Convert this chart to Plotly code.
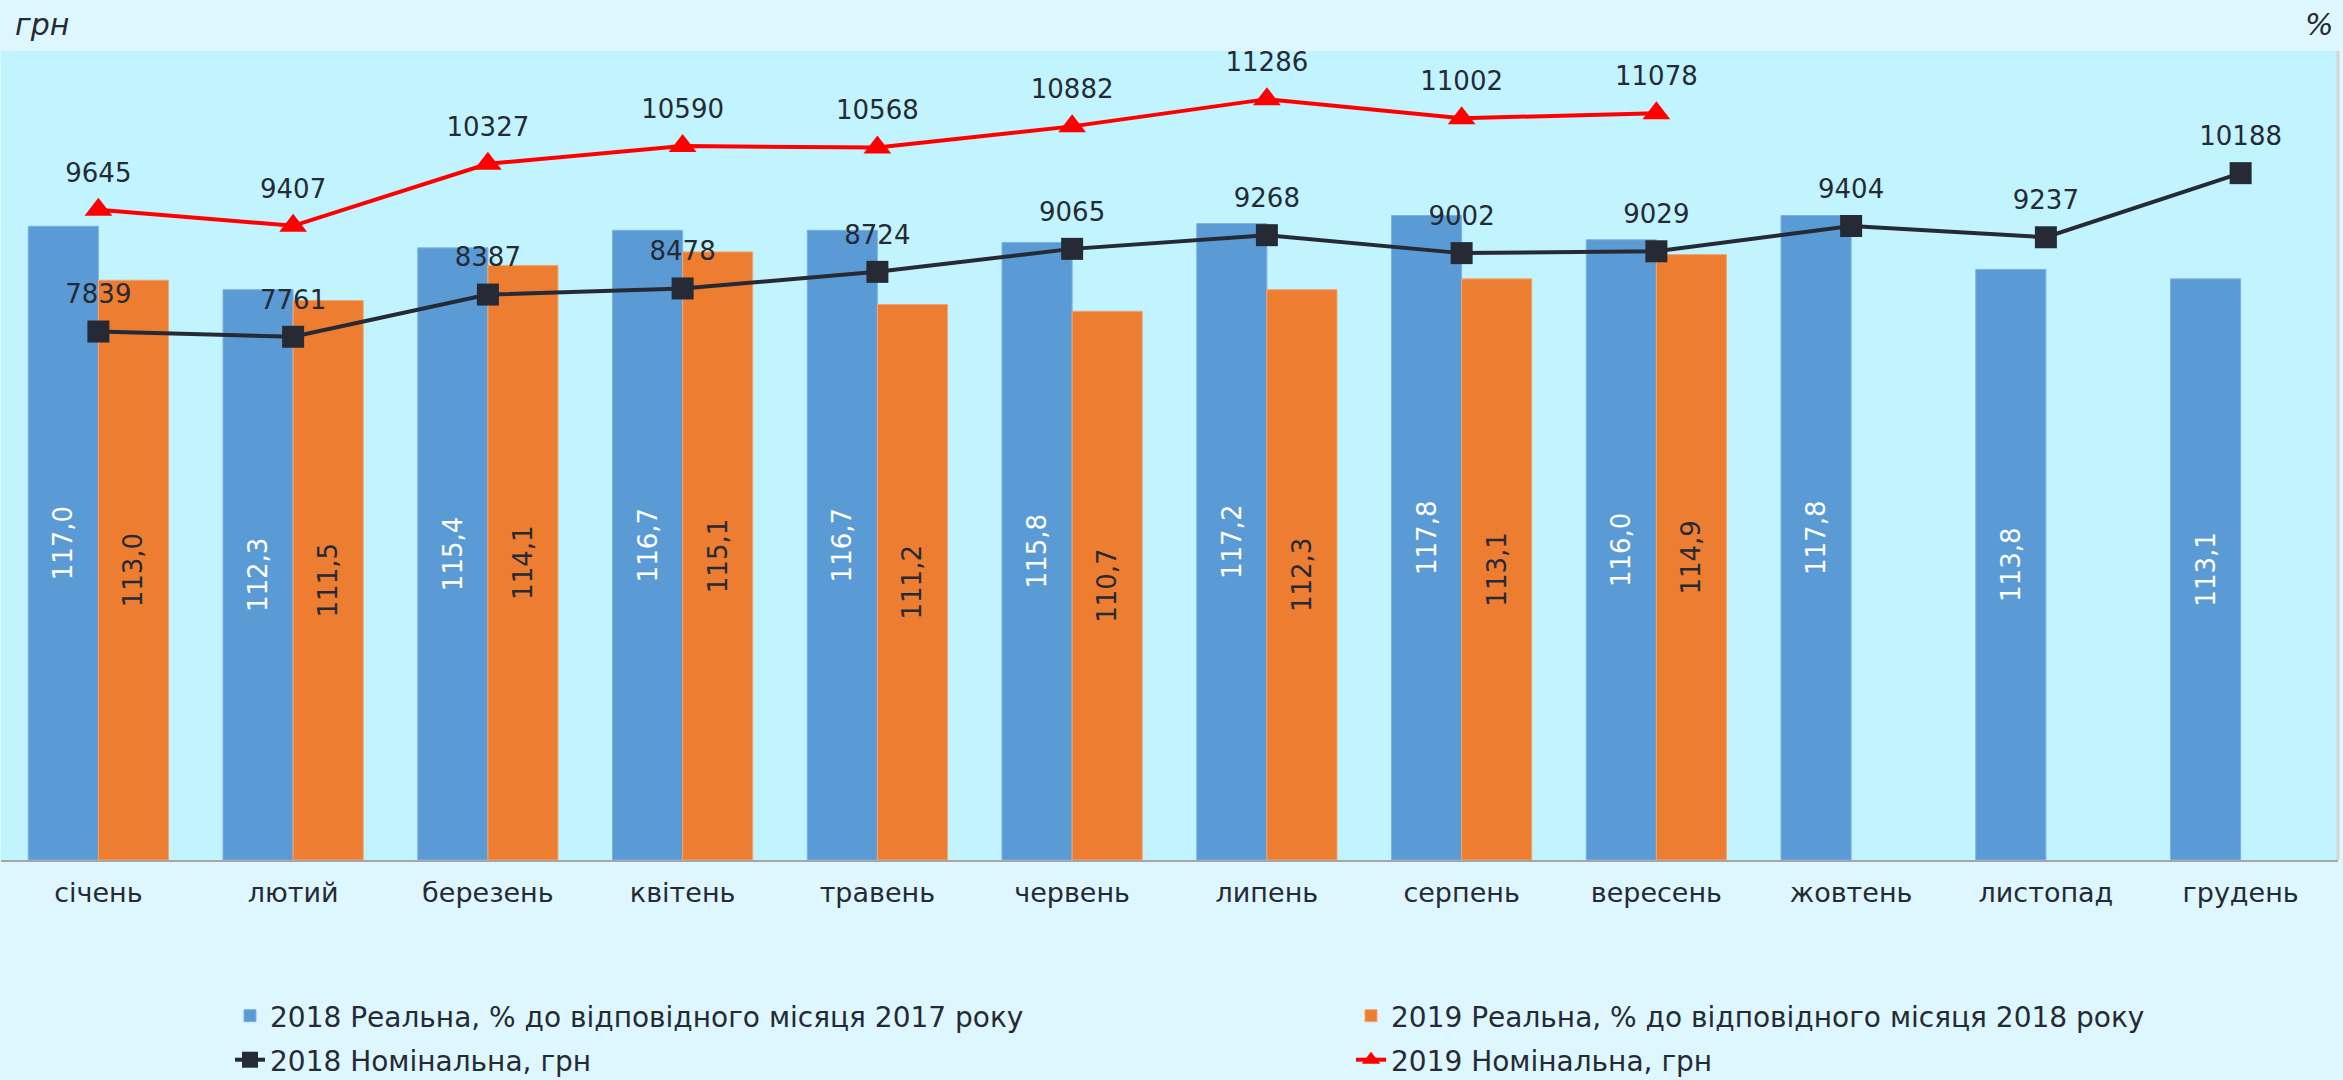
import plotly.graph_objects as go

months = ["січень", "лютий", "березень", "квітень", "травень", "червень",
          "липень", "серпень", "вересень", "жовтень", "листопад", "грудень"]

real_2018 = [117.0, 112.3, 115.4, 116.7, 116.7, 115.8, 117.2, 117.8, 116.0, 117.8, 113.8, 113.1]
real_2019 = [113.0, 111.5, 114.1, 115.1, 111.2, 110.7, 112.3, 113.1, 114.9, None, None, None]
nominal_2018 = [7839, 7761, 8387, 8478, 8724, 9065, 9268, 9002, 9029, 9404, 9237, 10188]
nominal_2019 = [9645, 9407, 10327, 10590, 10568, 10882, 11286, 11002, 11078, None, None, None]

name_r18 = "2018 Реальна, % до відповідного місяця 2017 року"
name_r19 = "2019 Реальна, % до відповідного місяця 2018 року"
name_n18 = "2018 Номінальна, грн"
name_n19 = "2019 Номінальна, грн"

PCT_MIN, PCT_MAX = 70, 130
UAH_MIN, UAH_MAX = 0, 12000

FONT = "DejaVu Sans, Verdana, sans-serif"
DARK = "#252A34"
BLUE = "#5B9BD5"
ORANGE = "#ED7D31"
RED = "#FF0000"
W, H = 2343, 1080
T, B = 51, 220
PH = H - T - B
LBL = 26


def above_base(vals):
    return [None if v is None else v - PCT_MIN for v in vals]


fig = go.Figure()

fig.add_trace(go.Bar(
    x=months, y=above_base(real_2018), base=PCT_MIN, customdata=real_2018,
    name=name_r18, yaxis="y", legend="legend",
    marker=dict(color=BLUE, line=dict(color="#7DB1E2", width=1)),
    texttemplate="%{customdata:.1f}", textposition="inside", textangle=-90,
    insidetextanchor="middle", constraintext="none",
    textfont=dict(color="white", size=LBL, family=FONT),
    hovertemplate="%{x}: %{customdata:.1f}<extra></extra>",
))
fig.add_trace(go.Bar(
    x=months, y=above_base(real_2019), base=PCT_MIN, customdata=real_2019,
    name=name_r19, yaxis="y", legend="legend",
    marker=dict(color=ORANGE, line=dict(color="#F4A672", width=1)),
    texttemplate="%{customdata:.1f}", textposition="inside", textangle=-90,
    insidetextanchor="middle", constraintext="none",
    textfont=dict(color=DARK, size=LBL, family=FONT),
    hovertemplate="%{x}: %{customdata:.1f}<extra></extra>",
))

for vals, name, color, symbol, msize in [
    (nominal_2018, name_n18, DARK, "square", 22),
    (nominal_2019, name_n19, RED, "triangle-up", 24),
]:
    fig.add_trace(go.Scatter(
        x=months, y=vals, name=name, yaxis="y2", legend="legend2",
        mode="lines+markers", line=dict(color=color, width=4),
        marker=dict(symbol=symbol, size=msize, color=color),
    ))
    # value labels (invisible larger markers lift the text a little)
    fig.add_trace(go.Scatter(
        x=months, y=vals, yaxis="y2", showlegend=False, hoverinfo="skip",
        mode="markers+text", marker=dict(size=33, color="rgba(0,0,0,0)"),
        texttemplate="%{y:.0f}", textposition="top center", cliponaxis=False,
        textfont=dict(color=DARK, size=LBL, family=FONT),
    ))

legend_common = dict(
    orientation="h", xref="container", yref="container",
    xanchor="left", yanchor="middle", entrywidth=1076, entrywidthmode="pixels",
    bgcolor="rgba(0,0,0,0)", font=dict(family=FONT, size=28, color=DARK),
    traceorder="normal",
)


def py(px_from_top):
    return (H - B - px_from_top) / PH


fig.update_layout(
    width=W, height=H,
    margin=dict(l=1, r=5, t=T, b=B),
    paper_bgcolor="#DEF7FE",
    plot_bgcolor="#C1F4FE",
    separators=", ",
    barmode="group", bargap=0.28, bargroupgap=0,
    font=dict(family=FONT, size=26, color=DARK),
    xaxis=dict(showline=True, linecolor="#A6A6A6", linewidth=2, ticks="",
               range=[-0.5, len(months) - 0.5], autorange=False,
               showgrid=False, tickfont=dict(size=27, color=DARK, family=FONT),
               ticklabelstandoff=8, fixedrange=True),
    yaxis=dict(range=[PCT_MIN, PCT_MAX], visible=False, showgrid=False),
    yaxis2=dict(range=[UAH_MIN, UAH_MAX], overlaying="y", side="left", visible=False,
                showgrid=False),
    legend=dict(**legend_common, x=230 / W, y=(H - 1016) / H),
    legend2=dict(**legend_common, x=230 / W, y=(H - 1060) / H),
    showlegend=True,
    annotations=[
        dict(text="<i>грн</i>", xref="paper", yref="paper", x=12 / W, y=py(24),
             xanchor="left", yanchor="middle", showarrow=False,
             font=dict(family=FONT, size=30, color=DARK)),
        dict(text="<i>%</i>", xref="paper", yref="paper", x=2341 / W, y=py(24),
             xanchor="right", yanchor="middle", showarrow=False,
             font=dict(family=FONT, size=30, color=DARK)),
    ],
    shapes=[
        dict(type="line", xref="paper", yref="paper", x0=1, x1=1, y0=0, y1=1,
             line=dict(color="#D6D6D6", width=3)),
    ],
)

fig.write_html("out.html", config={"displayModeBar": False},
               post_script="document.body.style.margin='0px';document.body.style.padding='0px';")
